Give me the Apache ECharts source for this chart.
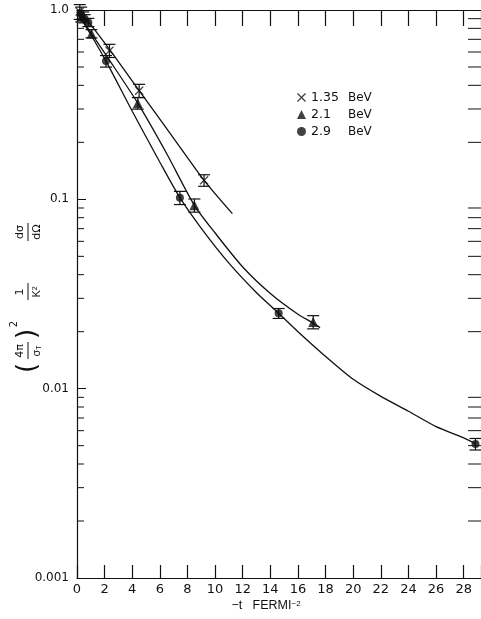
<!DOCTYPE html>
<html>
<head>
<meta charset="utf-8">
<script src="https://cdn.jsdelivr.net/npm/echarts@6/dist/echarts.min.js"></script>
<style>
html,body{margin:0;padding:0;background:#fff;overflow:hidden}
#main{width:484px;height:619px}
</style>
</head>
<body>
<div id="main"></div>
<script>
// points: [-t, value]
var pts135 = [[0.2, 0.98], [2.35, 0.61], [4.5, 0.375], [9.2, 0.126]];
var err135 = [0.09, 0.08, 0.08, 0.07];
var pts21 = [[0.45, 0.93], [1.05, 0.75], [4.4, 0.322], [8.5, 0.093], [17.1, 0.0225]];
var err21 = [0.05, 0.05, 0.07, 0.08, 0.08];
var pts29 = [[0.3, 0.95], [0.55, 0.9], [0.82, 0.86], [2.1, 0.537], [7.45, 0.102], [14.6, 0.025], [28.85, 0.0051]];
var err29 = [0.09, 0.05, 0.05, 0.07, 0.08, 0.06, 0.07];

// fitted curves as drawn
var curve135 = [[0, 1.04], [2.35, 0.62], [4.5, 0.375], [7, 0.21], [9.2, 0.126], [11.25, 0.084]];
var curve21 = [[0, 0.98], [1.05, 0.75], [2.3, 0.55], [4.4, 0.322], [6.5, 0.174], [8.5, 0.093], [10, 0.0664],
	[12, 0.0439], [14, 0.0318], [16, 0.0247], [17.1, 0.0222], [17.6, 0.021]];
var curve29 = [[0, 0.97], [1, 0.74], [2.1, 0.537], [4, 0.292], [6, 0.157], [7.45, 0.102], [9, 0.0703], [11, 0.046],
	[13, 0.0321], [14.6, 0.025], [16, 0.02], [18, 0.0148], [20, 0.0112], [22, 0.0091], [24, 0.0076], [26, 0.0063],
	[28, 0.0055], [28.9, 0.0051]];

var seriesNames = ['1.35 BeV', '2.1 BeV', '2.9 BeV'];
var xTicks = [0, 2, 4, 6, 8, 10, 12, 14, 16, 18, 20, 22, 24, 26, 28];
var yLabels = {'0': '1.0', '-1': '0.1', '-2': '0.01', '-3': '0.001'};

var ink = '#111';
var crossPath = 'path://M0,1L1,0L5,4L9,0L10,1L6,5L10,9L9,10L5,6L1,10L0,9L4,5Z';

var minorTicks = [];
for (var d = -3; d < 0; d++) {
	for (var k = 2; k <= 9; k++) minorTicks.push(k * Math.pow(10, d));
}

function errData(pts, err) {
	return pts.map(function (p, i) {
		return [p[0], p[1] * (1 - err[i]), p[1] * (1 + err[i])];
	});
}

function errBars(api) {
	var lo = api.coord([api.value(0), api.value(1)]);
	var hi = api.coord([api.value(0), api.value(2)]);
	var w = 6;
	var st = {stroke: ink, lineWidth: 1.2};
	return {
		type: 'group',
		children: [
			{type: 'line', shape: {x1: lo[0], y1: lo[1], x2: hi[0], y2: hi[1]}, style: st},
			{type: 'line', shape: {x1: lo[0] - w, y1: lo[1], x2: lo[0] + w, y2: lo[1]}, style: st},
			{type: 'line', shape: {x1: hi[0] - w, y1: hi[1], x2: hi[0] + w, y2: hi[1]}, style: st}
		]
	};
}

function minorRender(params, api) {
	var p = api.coord([0, api.value(0)]);
	var r = params.coordSys.x + params.coordSys.width;
	var st = {stroke: ink, lineWidth: 1};
	return {
		type: 'group',
		children: [
			{type: 'line', shape: {x1: p[0], y1: p[1], x2: p[0] + 7, y2: p[1]}, style: st},
			{type: 'line', shape: {x1: r - 13, y1: p[1], x2: r, y2: p[1]}, style: st}
		]
	};
}

var myChart = echarts.init(document.getElementById('main'));

var lineStyle = {color: ink, width: 1.3};
function curve(name, data) {
	return {
		name: name, type: 'line', data: data, smooth: 0.25, showSymbol: false,
		lineStyle: lineStyle, silent: true, z: 2
	};
}
function points(name, data, symbol, size) {
	return {
		name: name, type: 'scatter', data: data, symbol: symbol, symbolSize: size,
		itemStyle: {color: ink}, z: 4
	};
}
function bars(name, data) {
	return {
		name: name, type: 'custom', data: data, renderItem: function (params, api) { return errBars(api); },
		silent: true, z: 3
	};
}

function txt(x, y, s, size) {
	return {type: 'text', x: x, y: y, style: {text: s, fontSize: size, fontFamily: 'DejaVu Sans', fill: ink, align: 'center', verticalAlign: 'middle'}};
}
function bar(x1, x2) {
	return {type: 'line', shape: {x1: x1, y1: 0, x2: x2, y2: 0}, style: {stroke: ink, lineWidth: 1}};
}

var option = {
	backgroundColor: '#fff',
	animation: false,
	textStyle: {fontFamily: 'DejaVu Sans', color: ink},
	grid: {left: 77, right: 0, top: 10, bottom: 41},
	legend: {
		left: 292, top: 86, orient: 'vertical', itemGap: 4, itemWidth: 9, itemHeight: 9,
		data: [
			{name: seriesNames[0], icon: crossPath},
			{name: seriesNames[1], icon: 'triangle'},
			{name: seriesNames[2], icon: 'circle'}
		],
		formatter: function (n) {
			var s = n.split(' ');
			return '{n|' + s[0] + '}{u|' + s[1] + '}';
		},
		textStyle: {
			rich: {
				n: {fontSize: 12.5, width: 37, color: ink, fontFamily: 'DejaVu Sans'},
				u: {fontSize: 12, color: ink, fontFamily: 'DejaVu Sans'}
			}
		},
		selectedMode: false
	},
	xAxis: [{
		type: 'value', min: 0, max: 29.25, interval: 2, position: 'bottom',
		axisLine: {show: true, lineStyle: {color: ink, width: 1.2}},
		axisTick: {inside: true, length: 13, lineStyle: {color: ink, width: 1.2}},
		axisLabel: {
			margin: 5, fontSize: 13, color: ink,
			formatter: function (v) { return xTicks.indexOf(v) >= 0 ? String(v) : ''; }
		},
		splitLine: {show: false}
	}, {
		type: 'value', min: 0, max: 29.25, interval: 2, position: 'top',
		axisLine: {show: true, lineStyle: {color: ink, width: 1.2}},
		axisTick: {inside: true, length: 16, lineStyle: {color: ink, width: 1.2}},
		axisLabel: {show: false},
		splitLine: {show: false}
	}],
	yAxis: {
		type: 'log', logBase: 10, min: 0.001, max: 1,
		axisLine: {show: true, lineStyle: {color: ink, width: 1.2}},
		axisTick: {inside: true, length: 9, lineStyle: {color: ink}},
		axisLabel: {
			margin: 8, fontSize: 12, color: ink,
			formatter: function (v) { return yLabels[String(Math.round(Math.log10(v)))] || ''; }
		},
		splitLine: {show: false}
	},
	graphic: [{
		type: 'group', x: 28, y: 372, rotation: Math.PI / 2,
		children: [
			txt(4, 0, '(', 26),
			txt(21, -8, '4π', 11),
			bar(13, 30),
			{type: 'text', x: 21, y: 9, style: {text: '{a|σ}{b|T}', fontFamily: 'DejaVu Sans', fill: ink, align: 'center', verticalAlign: 'middle',
				rich: {a: {fontSize: 11, fill: ink}, b: {fontSize: 7, fill: ink, verticalAlign: 'bottom'}}}},
			txt(38, 0, ')', 26),
			txt(48, -14, '2', 10),
			txt(80, -8, '1', 11),
			bar(72, 89),
			{type: 'text', x: 80, y: 9, style: {text: '{a|K}{b|2}', fontFamily: 'DejaVu Sans', fill: ink, align: 'center', verticalAlign: 'middle',
				rich: {a: {fontSize: 11, fill: ink}, b: {fontSize: 7, fill: ink, verticalAlign: 'top'}}}},
			txt(140, -8, 'dσ', 11),
			bar(131, 149),
			txt(140, 9, 'dΩ', 11)
		]
	}, {
		type: 'text', x: 266, y: 606,
		style: {
			text: '{a|−t   FERMI}{s|−2}', fontFamily: 'DejaVu Sans', fill: ink, align: 'center', verticalAlign: 'middle',
			rich: {a: {fontSize: 12.5, fill: ink}, s: {fontSize: 8, fill: ink, verticalAlign: 'top'}}
		}
	}],
	series: [
		curve('c135', curve135),
		curve('c21', curve21),
		curve('c29', curve29),
		bars('e135', errData(pts135, err135)),
		bars('e21', errData(pts21, err21)),
		bars('e29', errData(pts29, err29)),
		points(seriesNames[0], pts135, crossPath, 9),
		points(seriesNames[1], pts21, 'triangle', 10),
		points(seriesNames[2], pts29, 'circle', 8),
		{
			name: 'minor', type: 'custom', data: minorTicks.map(function (v) { return [v]; }),
			renderItem: minorRender, silent: true, clip: false, encode: {y: 0}
		}
	]
};

myChart.setOption(option);
window.onresize = myChart.resize;
</script>
</body>
</html>
